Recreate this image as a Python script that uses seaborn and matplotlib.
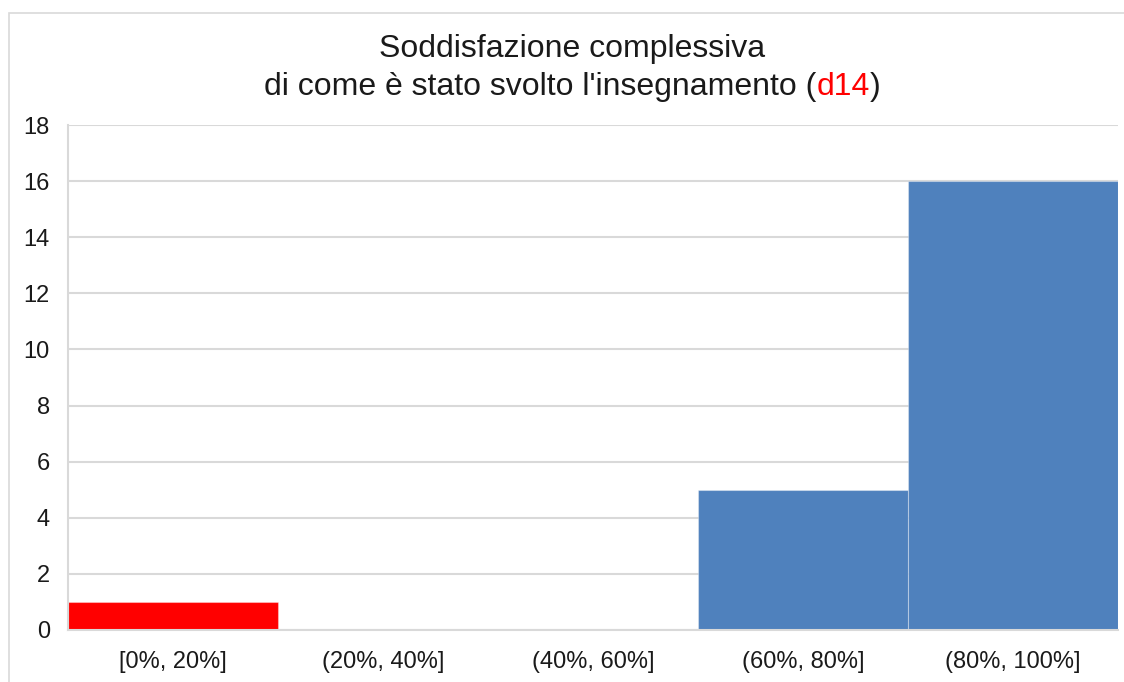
import matplotlib
matplotlib.use('Agg')
import matplotlib.pyplot as plt
import seaborn as sns
import pandas as pd
from matplotlib.patches import Rectangle

# Data
categories = ['[0%, 20%]', '(20%, 40%]', '(40%, 60%]', '(60%, 80%]', '(80%, 100%]']
counts = [1, 0, 0, 5, 16]
bar_colors = ['#FF0000', '#4F81BD', '#4F81BD', '#4F81BD', '#4F81BD']
y_ticks = [0, 2, 4, 6, 8, 10, 12, 14, 16, 18]

sns.set_theme(style='white')
plt.rcParams['font.family'] = ['Liberation Sans', 'DejaVu Sans']

df = pd.DataFrame({'Classe': categories, 'Frequenza': counts})

fig = plt.figure(figsize=(11.24, 6.82), dpi=100)
ax = fig.add_axes([68 / 1124, 52 / 682, 1050 / 1124, 505 / 682])

sns.barplot(data=df, x='Classe', y='Frequenza', hue='Classe',
            palette=bar_colors, width=1.0, legend=False, ax=ax,
            edgecolor=(1, 1, 1, 0.35), linewidth=0.8, saturation=1)

ax.set_xlim(-0.5, 4.5)
ax.set_ylim(0, 18)
ax.set_yticks(y_ticks)
ax.set_xlabel('')
ax.set_ylabel('')
ax.yaxis.grid(True, color='#d9d9d9', linewidth=1.5)
ax.set_axisbelow(True)
for side in ['top', 'right']:
    ax.spines[side].set_visible(False)
ax.spines['left'].set_color('#d9d9d9')
ax.spines['bottom'].set_color('#d9d9d9')
ax.spines['left'].set_linewidth(1.5)
ax.spines['bottom'].set_linewidth(1.5)
ax.tick_params(axis='both', length=0, labelsize=17, colors='#1a1a1a')
ax.tick_params(axis='y', pad=13)
ax.tick_params(axis='x', pad=15)

# Outer chart border
fig.patches.append(Rectangle((9 / 1124, -0.1), 1.2, (682 - 13) / 682 + 0.1,
                             transform=fig.transFigure, fill=False,
                             edgecolor='#d9d9d9', linewidth=1.2, zorder=0))

# Title, second line with red "d14"
title_x = 572 / 1124
fig.text(title_x, 1 - 57 / 682, 'Soddisfazione complessiva', ha='center',
         va='baseline', fontsize=23, color='#1a1a1a')
parts = [("di come è stato svolto l'insegnamento (", '#1a1a1a'),
         ('d14', '#FF0000'), (')', '#1a1a1a')]
fig.canvas.draw()
renderer = fig.canvas.get_renderer()
texts = []
widths = []
for s, c in parts:
    t = fig.text(0, 1 - 95 / 682, s, ha='left', va='baseline', fontsize=23, color=c)
    texts.append(t)
    widths.append(t.get_window_extent(renderer).width / fig.bbox.width)
x = title_x - sum(widths) / 2
for t, w in zip(texts, widths):
    t.set_x(x)
    x += w

fig.savefig('out.png', dpi=100)
